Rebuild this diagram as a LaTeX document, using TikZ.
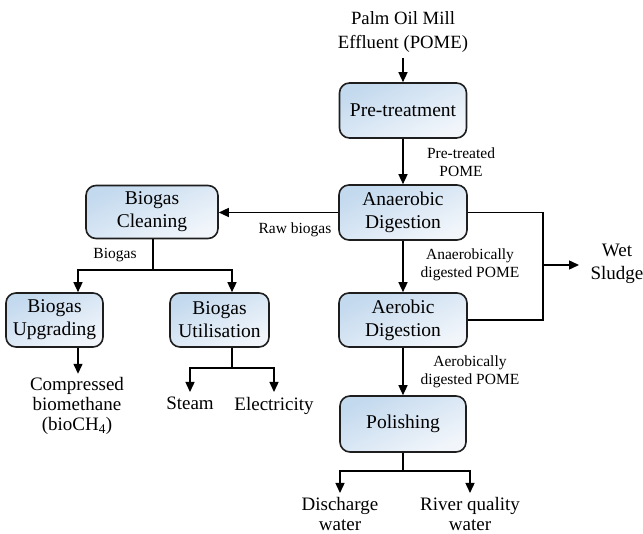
\documentclass[tikz,border=0pt]{standalone}
\usepackage{fontspec}
\setmainfont{Liberation Serif}
\usetikzlibrary{arrows.meta,calc}
\definecolor{boxtop}{HTML}{C3D9EE}
\definecolor{boxbot}{HTML}{F2F6FB}
\definecolor{boxline}{HTML}{1E1E1E}
\begin{document}
\begin{tikzpicture}[x=1pt,y=-1pt,
  proc/.style={draw=boxline,line width=1.6pt,rounded corners=10pt,
    top color=boxtop,bottom color=boxbot,shading angle=25,
    align=center,font=\fontsize{19.5}{23}\selectfont,inner sep=2pt},
  lbl/.style={align=center,font=\fontsize{15.5}{18}\selectfont,inner sep=0pt},
  prodtext/.style={align=center,font=\fontsize{19}{20}\selectfont,inner sep=0pt},
  flow/.style={line width=1.4pt},
  arr/.style={flow,-{Triangle[length=10pt,width=9pt]}}]
\useasboundingbox (0,0) rectangle (643,534);
\clip (0,0) rectangle (643,534);

% process boxes
\node[proc,minimum width=127pt,minimum height=55pt] (pre) at (403,110.5) {Pre-treatment};
\node[proc,minimum width=128pt,minimum height=55pt] (ana) at (403,212.5) {Anaerobic\\Digestion};
\node[proc,minimum width=128pt,minimum height=54pt] (aer) at (403,320) {Aerobic\\Digestion};
\node[proc,minimum width=126pt,minimum height=56pt] (pol) at (403,424) {Polishing};
\node[proc,minimum width=132pt,minimum height=53pt] (clean) at (152,212) {Biogas\\Cleaning};
\node[proc,minimum width=97pt,minimum height=54pt] (upg) at (54.5,320) {Biogas\\Upgrading};
\node[proc,minimum width=99pt,minimum height=54pt] (util) at (219.5,320) {Biogas\\Utilisation};

% inputs and products
\node[prodtext,font=\fontsize{18.7}{24}\selectfont] (pome) at (403,32) {Palm Oil Mill\\Effluent (POME)};
\node[prodtext,font=\fontsize{19}{23}\selectfont] (sludge) at (617,264) {Wet\\Sludge};
\node[prodtext,anchor=north] (comp) at (77,377) {Compressed\\biomethane\\(bioCH\textsubscript{4})};
\node[prodtext,anchor=north] (steam) at (190,397) {Steam};
\node[prodtext,anchor=north] (elec) at (274,397) {Electricity};
\node[prodtext,anchor=north] (disch) at (340,497) {Discharge\\water};
\node[prodtext,anchor=north] (river) at (470,497) {River quality\\water};

% stream labels
\node[lbl] (lpre) at (461,162) {Pre-treated\\POME};
\node[lbl] (lraw) at (295,230) {Raw biogas};
\node[lbl] (lbio) at (115,255) {Biogas};
\node[lbl] (lana) at (470,265) {Anaerobically\\digested POME};
\node[lbl] (laer) at (470,372) {Aerobically\\digested POME};

% junction points
\coordinate (pomeout) at (403,58);
\coordinate (bj) at (153,270);
\coordinate (sx) at (543,265);
\coordinate (sludgein) at (579,265);
\coordinate (uj) at (232,368);
\coordinate (pj) at (403,471);

% main treatment line
\draw[arr] (pomeout) -- (pre.north);
\draw[arr] (pre.south) -- (ana.north);
\draw[arr] (ana.south) -- (aer.north);
\draw[arr] (aer.south) -- (pol.north);
\draw[arr] (ana.west) -- (ana.west -| clean.east);

% sludge collection
\draw[flow] (ana.east) -| (sx) |- (aer.east);
\draw[arr] (sx) -- (sludgein);

% biogas branches
\draw[flow] (clean.south -| bj) -- (bj);
\draw[arr] (bj) -| ($(upg.north)+(23.5,0)$);
\draw[arr] (bj) -| (upg.north -| uj);
\draw[arr] ($(upg.south)+(23.5,0)$) -- ($(upg.south)+(23.5,26)$);
\draw[flow] (util.south -| uj) -- (uj);
\draw[arr] (uj) -| ($(steam.north)+(0,-5)$);
\draw[arr] (uj) -| ($(elec.north)+(0,-5)$);

% polishing outlets
\draw[flow] (pol.south) -- (pj);
\draw[arr] (pj) -| ($(disch.north)+(0,-4)$);
\draw[arr] (pj) -| ($(river.north)+(0,-4)$);
\end{tikzpicture}
\end{document}
